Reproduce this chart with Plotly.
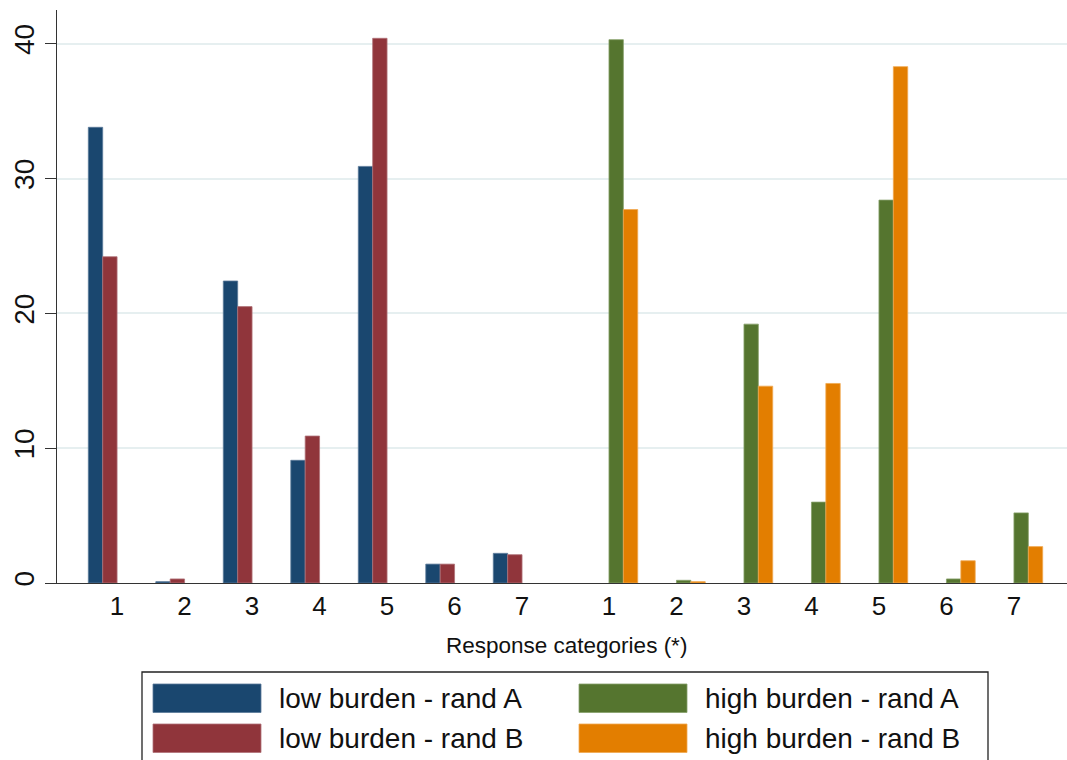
import plotly.graph_objects as go

# ---------------- data ----------------
categories = ["1", "2", "3", "4", "5", "6", "7"]
low_rand_a = [33.8, 0.1, 22.4, 9.1, 30.9, 1.4, 2.2]
low_rand_b = [24.2, 0.3, 20.5, 10.9, 40.4, 1.4, 2.1]
high_rand_a = [40.3, 0.2, 19.2, 6.0, 28.4, 0.3, 5.2]
high_rand_b = [27.7, 0.1, 14.6, 14.8, 38.3, 1.65, 2.7]
series_names = ["low burden - rand A", "low burden - rand B",
                "high burden - rand A", "high burden - rand B"]
colors = ["#1a476f", "#90353b", "#55752f", "#e37e00"]
edge_colors = ["#5a7a99", "#b07278", "#86a06a", "#f0a850"]
x_title = "Response categories (*)"
y_ticks = [0, 10, 20, 30, 40]

# ---------------- layout constants ----------------
W, H = 1067, 760
ML, MR, MT, MB = 57, 0, 10, 177
BAR_W = 0.213
GROUP2_START = 7.714
n = len(categories)

pos_low = [i for i in range(n)]
pos_high = [GROUP2_START + i for i in range(n)]

fig = go.Figure()
groups = [(pos_low, low_rand_a, 0, 0.0), (pos_low, low_rand_b, 1, BAR_W),
          (pos_high, high_rand_a, 2, 0.0), (pos_high, high_rand_b, 3, BAR_W)]
for pos, vals, k, off in groups:
    fig.add_trace(go.Bar(
        x=pos, y=vals, width=BAR_W, offset=off,
        name=series_names[k], showlegend=False,
        marker=dict(color=colors[k], line=dict(color=edge_colors[k], width=0.8)),
    ))

tickvals = [p + 2 * BAR_W for p in pos_low] + pos_high
ticktext = categories + categories

plot_w = W - ML - MR
plot_h = H - MT - MB


def px_x(X):
    return (X - ML) / plot_w


def px_y(Y):
    return (H - MB - Y) / plot_h


font_family = "Liberation Sans, Arial, Helvetica, sans-serif"

# manual legend (Stata-style big swatches)
shapes = [dict(type="rect", xref="paper", yref="paper",
               x0=px_x(142), x1=px_x(988), y0=px_y(672), y1=px_y(775),
               line=dict(color="#222222", width=1.3), fillcolor="rgba(0,0,0,0)")]
annotations = []
legend_cells = [(153, 684, 0), (153, 724, 1), (579, 684, 2), (579, 724, 3)]
for x0, y0, k in legend_cells:
    shapes.append(dict(type="rect", xref="paper", yref="paper",
                       x0=px_x(x0), x1=px_x(x0 + 108), y0=px_y(y0), y1=px_y(y0 + 28.5),
                       line=dict(color=edge_colors[k], width=0.8), fillcolor=colors[k]))
    annotations.append(dict(xref="paper", yref="paper", x=px_x(x0 + 124), y=px_y(y0 + 14.5),
                            text=series_names[k], showarrow=False, xanchor="left",
                            yanchor="middle", font=dict(size=28, color="#111111", family=font_family)))

annotations.append(dict(xref="paper", yref="paper", x=px_x(566), y=px_y(645),
                        text=x_title, showarrow=False, xanchor="center", yanchor="middle",
                        font=dict(size=22.5, color="#111111", family=font_family)))

fig.update_layout(
    width=W, height=H,
    margin=dict(l=ML, r=MR, t=MT, b=MB, pad=0),
    paper_bgcolor="white", plot_bgcolor="white",
    barmode="overlay",
    font=dict(family=font_family, color="#111111"),
    shapes=shapes, annotations=annotations,
    xaxis=dict(range=[-0.464, 14.50], tickmode="array", tickvals=tickvals, ticktext=ticktext,
               showgrid=False, zeroline=False, showline=True, linecolor="#333333", linewidth=1.3,
               ticks="", tickfont=dict(size=26, color="#111111"), fixedrange=True),
    yaxis=dict(range=[0, 42.5], tickmode="array", tickvals=y_ticks,
               showgrid=True, gridcolor="#e6eff0", gridwidth=1.5,
               zeroline=False, showline=True, linecolor="#333333", linewidth=1.3,
               ticks="outside", ticklen=11, tickcolor="#333333", tickwidth=1.3,
               tickangle=-90, tickfont=dict(size=28, color="#111111")),
)

fig.write_html("out.html")
